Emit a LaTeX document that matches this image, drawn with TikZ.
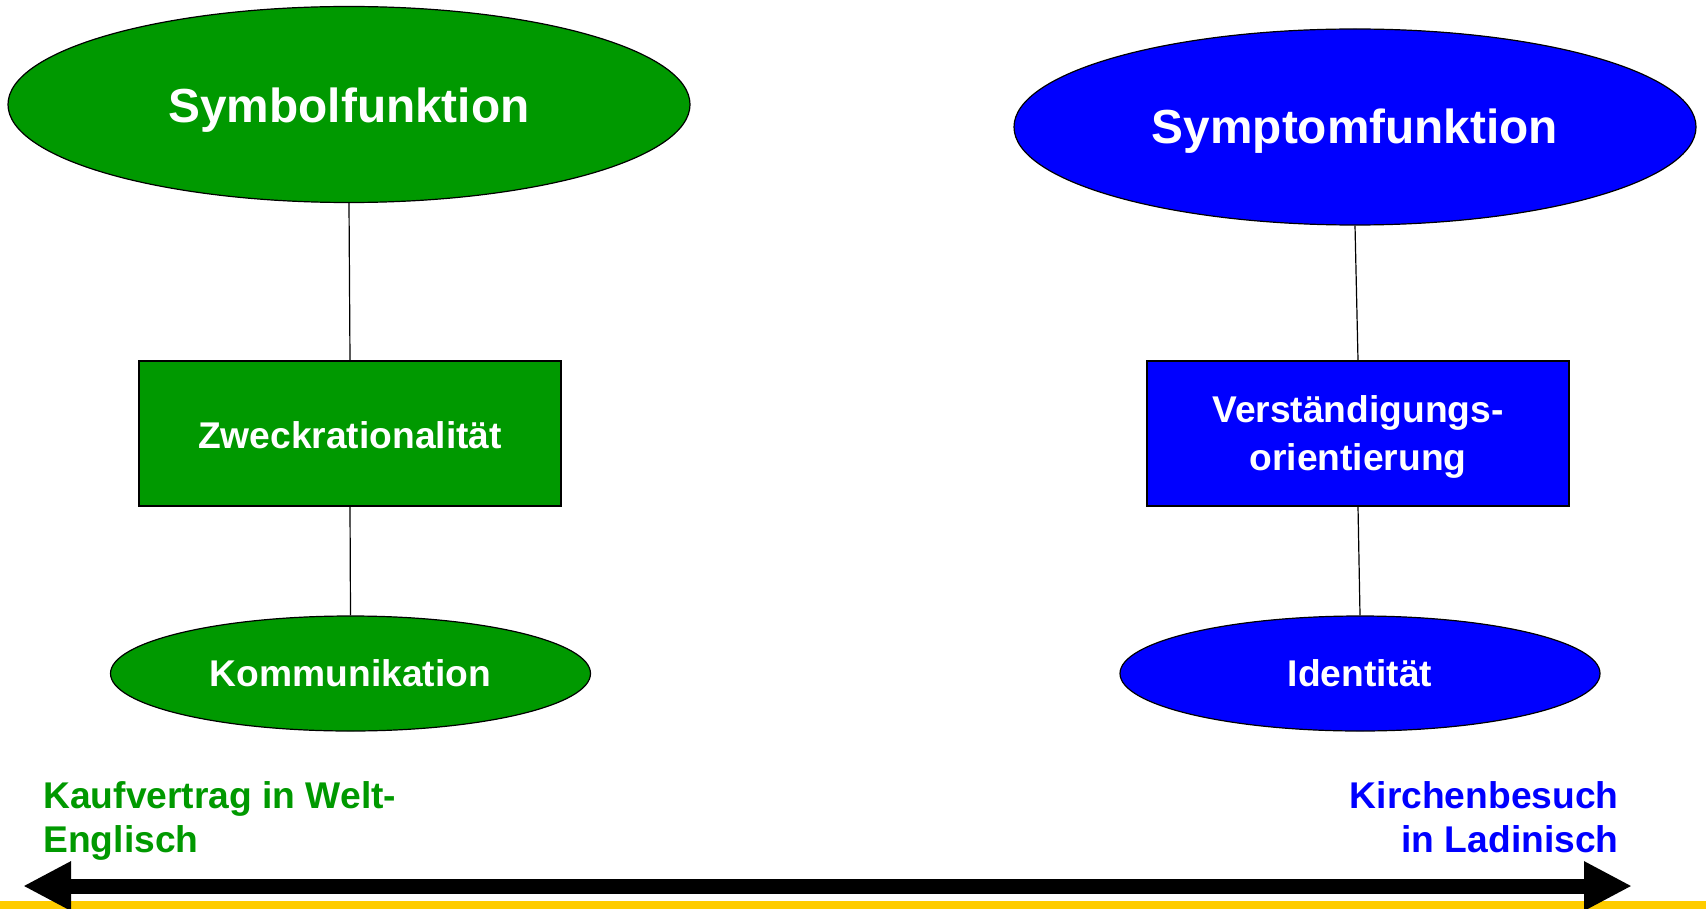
\documentclass[tikz,border=0pt]{standalone}
\usepackage{fontspec}
\setmainfont{Liberation Sans}
\usetikzlibrary{shapes.geometric,arrows.meta}
\definecolor{ggreen}{HTML}{009900}
\definecolor{bblue}{HTML}{0000FF}
\definecolor{bar}{HTML}{FFCC00}
\newcommand{\lowr}[2]{\raisebox{-#1}[\height][\depth]{#2}}
\tikzset{
  bigell/.style={ellipse,draw=black,line width=0.6pt,inner sep=0pt,minimum width=341pt,minimum height=98pt,text=white,font=\bfseries\fontsize{23.9}{28}\selectfont},
  smallell/.style={ellipse,draw=black,line width=0.6pt,inner sep=0pt,minimum width=240pt,minimum height=57.5pt,text=white,font=\bfseries\fontsize{18.6}{22}\selectfont},
  box/.style={rectangle,draw=black,line width=0.6pt,inner sep=0pt,minimum width=211pt,minimum height=72.5pt,text=white,align=center,font=\bfseries\fontsize{18.6}{23.5}\selectfont},
  conn/.style={draw=black,line width=0.6pt},
  side/.style={inner sep=0pt,font=\bfseries\fontsize{18.6}{22}\selectfont}
}
\begin{document}
\begin{tikzpicture}[x=0.5pt,y=-0.5pt]
\useasboundingbox (0,0) rectangle (1706,909);
\fill[white] (0,0) rectangle (1706,909);
% yellow bar
\fill[bar] (0,901) rectangle (1706,909);
% nodes
\node[bigell,fill=ggreen] (sym) at (349,104.5) {\lowr{2.6pt}{Symbolfunktion}};
\node[bigell,fill=bblue] (symp) at (1355,127) {\lowr{2.2pt}{Symptomfunktion}};
\node[box,fill=ggreen] (zweck) at (350,433.5) {\lowr{1pt}{Zweckrationalität}};
\node[box,fill=bblue] (verst) at (1358,433.5) {\lowr{1.3pt}{Verständigungs-}\\\lowr{2pt}{orientierung}};
\node[smallell,fill=ggreen] (komm) at (350.5,673.5) {Kommunikation};
\node[smallell,fill=bblue] (ident) at (1360,673.5) {Identität};
% connectors
\draw[conn] (sym.south) -- (zweck.north);
\draw[conn] (zweck.south) -- (komm.north);
\draw[conn] (symp.south) -- (verst.north);
\draw[conn] (verst.south) -- (ident.north);
% side labels
\node[side,text=ggreen,align=left,anchor=north west] (kauf) at (43,781.5) {Kaufvertrag in Welt-\\Englisch};
\node[side,text=bblue,align=right,anchor=north east] (kirch) at (1619,781.5) {Kirchenbesuch\\in Ladinisch};
% double arrow
\coordinate (L) at (23,886);
\coordinate (R) at (1632,886);
\draw[line width=7.5pt,black,{Triangle[length=24pt 0 0,width=23pt 0 0]}-{Triangle[length=24pt 0 0,width=23pt 0 0]}] (L) -- (R);
\end{tikzpicture}
\end{document}
